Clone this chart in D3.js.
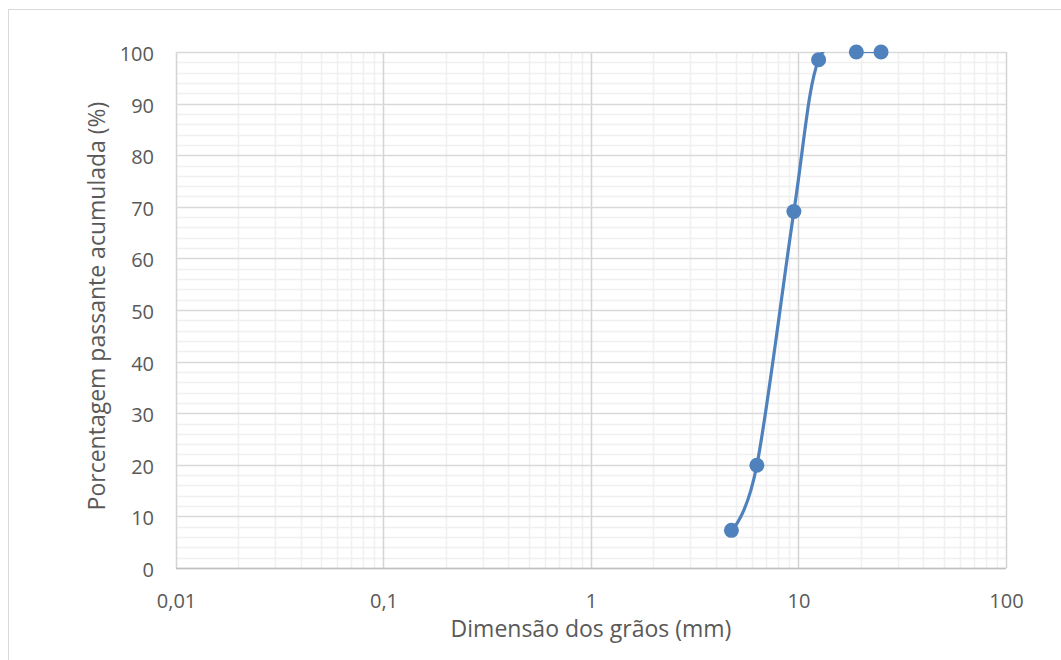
<!DOCTYPE html>
<html>
<head>
<meta charset="utf-8">
<script src="https://cdn.jsdelivr.net/npm/d3@7"></script>
<style>
  body { margin: 0; background: #fff; }
  text { font-family: "Open Sans", "Liberation Sans", sans-serif; fill: #595959; }
</style>
</head>
<body>
<div id="chart"></div>
<script>
"use strict"
// Granulometric curve data (sieve opening in mm, % passing)
var grainSize = [4.75, 6.3, 9.5, 12.5, 19, 25];
var passing = [7.3, 19.9, 69.1, 98.5, 100, 100];
var xTicks = [0.01, 0.1, 1, 10, 100];
var xTickLabels = ["0,01", "0,1", "1", "10", "100"];
var yTicks = [0, 10, 20, 30, 40, 50, 60, 70, 80, 90, 100];

var width = 1061, height = 660;
var margin = {top: 52, right: 55, bottom: 92, left: 176};
var drawWidth = width - margin.left - margin.right;
var drawHeight = height - margin.top - margin.bottom;
var blue = "#4f81bd";

var svg = d3.select("#chart").append("svg")
    .attr("width", width)
    .attr("height", height);

// outer chart border (cropped on right / bottom)
svg.append("rect")
    .attr("x", 8.5).attr("y", 9.5)
    .attr("width", width + 10).attr("height", height + 10)
    .attr("fill", "none").attr("stroke", "#d9d9d9");

var xScale = d3.scaleLog().domain([0.01, 100]).range([0, drawWidth]);
var yScale = d3.scaleLinear().domain([0, 100]).range([drawHeight, 0]);

var g = svg.append("g").attr("transform", "translate(" + margin.left + "," + margin.top + ")");

// minor gridlines
var minorX = [];
for (var d = 0.01; d < 100; d *= 10) {
    for (var k = 2; k <= 9; k++) minorX.push(d * k);
}
var minorY = d3.range(0, 101, 2).filter(function(v) { return v % 10 !== 0; });

g.selectAll(".minorX").data(minorX).enter().append("line")
    .attr("x1", function(d) { return Math.round(xScale(d)) + 0.5; })
    .attr("x2", function(d) { return Math.round(xScale(d)) + 0.5; })
    .attr("y1", 0).attr("y2", drawHeight)
    .attr("stroke", "#f0f0f0").attr("stroke-width", 1.5);

g.selectAll(".minorY").data(minorY).enter().append("line")
    .attr("x1", 0).attr("x2", drawWidth)
    .attr("y1", function(d) { return Math.round(yScale(d)) + 0.5; })
    .attr("y2", function(d) { return Math.round(yScale(d)) + 0.5; })
    .attr("stroke", "#f0f0f0").attr("stroke-width", 1.5);

// major gridlines
g.selectAll(".majorX").data(xTicks).enter().append("line")
    .attr("x1", function(d) { return Math.round(xScale(d)) + 0.5; })
    .attr("x2", function(d) { return Math.round(xScale(d)) + 0.5; })
    .attr("y1", 0).attr("y2", drawHeight)
    .attr("stroke", "#d4d4d4").attr("stroke-width", 1.5);

g.selectAll(".majorY").data(yTicks).enter().append("line")
    .attr("x1", 0).attr("x2", drawWidth)
    .attr("y1", function(d) { return Math.round(yScale(d)) + 0.5; })
    .attr("y2", function(d) { return Math.round(yScale(d)) + 0.5; })
    .attr("stroke", "#d9d9d9").attr("stroke-width", 1.5);

// bottom axis line
g.append("line")
    .attr("x1", 0).attr("x2", drawWidth)
    .attr("y1", drawHeight + 0.5).attr("y2", drawHeight + 0.5)
    .attr("stroke", "#bfbfbf").attr("stroke-width", 1.5);

// tick labels
var xAxis = d3.axisBottom(xScale).tickValues(xTicks)
    .tickFormat(function(d, i) { return xTickLabels[i]; })
    .tickSize(0).tickPadding(26);
g.append("g").attr("transform", "translate(0," + drawHeight + ")").call(xAxis)
    .call(function(s) { s.select(".domain").remove(); })
    .selectAll("text").style("font-size", "20px").attr("fill", "#595959");

var yAxis = d3.axisLeft(yScale).tickValues(yTicks).tickSize(0).tickPadding(22);
g.append("g").call(yAxis)
    .call(function(s) { s.select(".domain").remove(); })
    .selectAll("text").style("font-size", "20px").attr("fill", "#595959")
    .attr("dy", "0.42em");

// axis titles
svg.append("text")
    .attr("x", margin.left + xScale(1)).attr("y", 637)
    .attr("text-anchor", "middle").style("font-size", "23px")
    .text("Dimensão dos grãos (mm)");

svg.append("text")
    .attr("transform", "translate(105,306) rotate(-90)")
    .attr("text-anchor", "middle").style("font-size", "23px")
    .text("Porcentagem passante acumulada (%)");

// clip so the smoothed line stays within the plot area
svg.append("clipPath").attr("id", "plotClip").append("rect")
    .attr("x", 0).attr("y", 0).attr("width", drawWidth).attr("height", drawHeight);

var points = grainSize.map(function(x, i) { return [x, passing[i]]; });

var line = d3.line()
    .x(function(d) { return xScale(d[0]); })
    .y(function(d) { return yScale(d[1]); })
    .curve(d3.curveCardinal.tension(0));

g.append("path")
    .datum(points)
    .attr("clip-path", "url(#plotClip)")
    .attr("d", line)
    .attr("fill", "none")
    .attr("stroke", blue)
    .attr("stroke-width", 3.2)
    .attr("stroke-linecap", "round");

g.selectAll(".pt").data(points).enter().append("circle")
    .attr("cx", function(d) { return xScale(d[0]); })
    .attr("cy", function(d) { return yScale(d[1]); })
    .attr("r", 7.5)
    .attr("fill", blue);
</script>
</body>
</html>
